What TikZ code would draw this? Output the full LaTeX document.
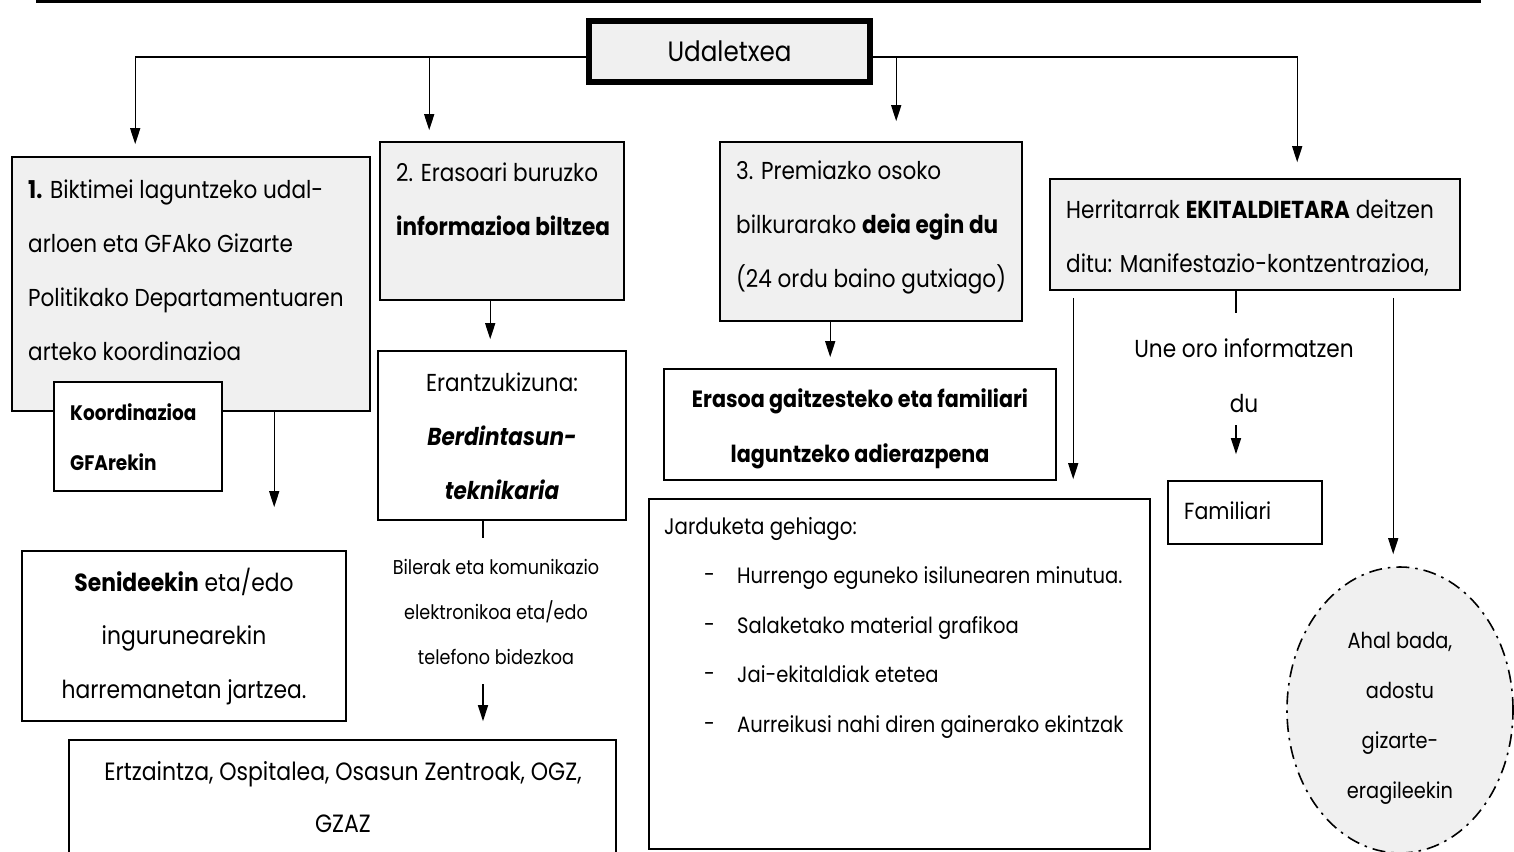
\documentclass[tikz,border=0pt]{standalone}
\usepackage{fontspec}
\setmainfont{Poppins}[FakeStretch=0.88]
\usetikzlibrary{arrows.meta,calc,shapes.geometric}
\definecolor{boxgray}{HTML}{F0F0F0}
\begin{document}
\begin{tikzpicture}[x=1pt,y=-1pt,
  box/.style={draw=black, line width=1.6pt, fill=boxgray, inner sep=0pt},
  wbox/.style={draw=black, line width=1.6pt, fill=white, inner sep=0pt},
  txt/.style={inner sep=0pt, font=\fontsize{24.5}{54}\selectfont},
  arr/.style={line width=1.4pt, -{Triangle[length=16pt,width=10pt]}},
  ln/.style={line width=1.4pt},
]
\path[use as bounding box] (0,0) rectangle (1514,851);
\clip (0,0) rectangle (1514,851);
\fill[white] (0,0) rectangle (1514,851);
\draw[line width=4pt] (36,1) -- (1481,1);

% top node
\node[box, line width=6pt, minimum width=281pt, minimum height=61pt,
      font=\fontsize{28}{34}\selectfont] (ud) at (729.5,51.5) {Udaletxea};

% column 1
\node[box, minimum width=358pt, minimum height=254pt] (b1) at (191,284) {};
\node[txt, anchor=west, align=left] (t1) at (28,270.5)
  {\textbf{1.} Biktimei laguntzeko udal-\\arloen eta GFAko Gizarte\\Politikako Departamentuaren\\arteko koordinazioa};
\node[wbox, minimum width=168pt, minimum height=109pt] (ko) at (138,436.5) {};
\node[txt, font=\fontsize{21}{50}\selectfont\bfseries, anchor=west, align=left] (tko) at (70,437)
  {Koordinazioa\\GFArekin};
\node[wbox, minimum width=324pt, minimum height=170pt] (sen) at (184,636) {};
\node[txt, font=\fontsize{24.8}{53.5}\selectfont, align=center] (tsen) at (184,636.5)
  {\textbf{Senideekin} eta/edo\\ingurunearekin\\harremanetan jartzea.};

% column 2
\node[box, minimum width=244pt, minimum height=158pt] (b2) at (502,221) {};
\node[txt, anchor=west, align=left] (t2) at (396,199.5)
  {2. Erasoari buruzko\\\textbf{informazioa biltzea}};
\node[wbox, minimum width=248pt, minimum height=169pt] (ber) at (502,435.5) {};
\node[txt, align=center] (tber) at (502,436.5)
  {Erantzukizuna:\\\textbf{\textit{Berdintasun-}}\\\textbf{\textit{teknikaria}}};
\node[txt, font=\fontsize{20}{45}\selectfont, align=center] (lbl1) at (496,612)
  {Bilerak eta komunikazio\\elektronikoa eta/edo\\telefono bidezkoa};
\node[wbox, minimum width=547pt, minimum height=140pt] (ertz) at (342.5,810) {};
\node[txt, font=\fontsize{25}{52}\selectfont, align=center] (tertz) at (343,797)
  {Ertzaintza, Ospitalea, Osasun Zentroak, OGZ,\\GZAZ};

% column 3
\node[box, minimum width=302pt, minimum height=179pt] (b3) at (871,231.5) {};
\node[txt, anchor=west, align=left] (t3) at (736,227)
  {3. Premiazko osoko\\bilkurarako \textbf{deia egin du}\\(24 ordu baino gutxiago)};
\node[wbox, minimum width=392pt, minimum height=111pt] (eras) at (860,424.5) {};
\node[txt, font=\fontsize{23.5}{55}\selectfont\bfseries, align=center] (teras) at (860,428.5)
  {Erasoa gaitzesteko eta familiari\\laguntzeko adierazpena};
\node[wbox, minimum width=501pt, minimum height=350pt] (jard) at (899.5,674) {};
\node[txt, font=\fontsize{22.5}{26}\selectfont, anchor=west] (tj) at (664,529) {Jarduketa gehiago:};
\node[txt, font=\fontsize{22.2}{49.7}\selectfont, anchor=west, align=left] (tjd) at (704,652.5)
  {-\\-\\-\\-};
\node[txt, font=\fontsize{22.2}{49.7}\selectfont, anchor=west, align=left] (tji) at (737,652.5)
  {Hurrengo eguneko isilunearen minutua.\\Salaketako material grafikoa\\Jai-ekitaldiak etetea\\Aurreikusi nahi diren gainerako ekintzak};

% column 4
\node[box, minimum width=410pt, minimum height=111pt] (b4) at (1255,234.5) {};
\node[txt, anchor=west, align=left] (t4) at (1066,237.5)
  {Herritarrak \textbf{EKITALDIETARA} deitzen\\ditu: Manifestazio-kontzentrazioa,};
\node[txt, font=\fontsize{24.6}{55}\selectfont, align=center] (lbl2) at (1244,375.5)
  {Une oro informatzen\\du};
\node[wbox, minimum width=154pt, minimum height=63pt] (fam) at (1245,512.5) {};
\node[txt, font=\fontsize{23.3}{28}\selectfont, anchor=west] (tfam) at (1184,511) {Familiari};
\node[draw=black, ellipse, fill=boxgray, line width=1.6pt,
      dash pattern=on 13pt off 6pt on 2.5pt off 6pt,
      minimum width=226pt, minimum height=286pt, inner sep=0pt] (el) at (1400,710) {};
\node[txt, font=\fontsize{22}{50}\selectfont, align=center] (tel) at (1400,718)
  {Ahal bada,\\adostu\\gizarte-\\eragileekin};

% connectors from Udaletxea
\draw[arr, shorten >=12pt] ([yshift=-5.5pt]ud.west) -| ([xshift=124pt]b1.north west);
\draw[arr, shorten >=11pt] ([yshift=-5.5pt]ud.west) -| ([xshift=50pt]b2.north west);
\draw[arr, shorten >=20pt] ([yshift=-5.5pt]ud.east) -| ([xshift=177pt]b3.north west);
\draw[arr, shorten >=16pt] ([yshift=-5.5pt]ud.east) -| ([xshift=248pt]b4.north west);

% other connectors
\draw[arr, shorten >=43pt] ([xshift=263pt]b1.south west) -- ([xshift=263pt]b1.south west |- sen.north);
\draw[arr, shorten >=11pt] ([xshift=111pt]b2.south west) -- ([xshift=111pt]b2.south west |- ber.north);
\coordinate (c1) at (483,538);
\coordinate (c2) at (483,684);
\draw[ln] (ber.south -| c1) -- (c1);
\draw[arr, shorten >=18pt] (c2) -- (c2 |- ertz.north);
\draw[arr, shorten >=11pt] ([xshift=111pt]b3.south west) -- ([xshift=111pt]b3.south west |- eras.north);
\draw[arr, shorten <=7pt, shorten >=19pt] ([xshift=24pt]b4.south west) -- ([xshift=24pt]b4.south west |- jard.north);
\coordinate (c3) at (1236,313);
\coordinate (c4) at (1236,425);
\draw[ln] (b4.south -| c3) -- (c3);
\draw[arr, shorten >=26pt] (c4) -- (c4 |- fam.north);
\draw[arr, shorten <=7pt, shorten >=12pt] ([xshift=344pt]b4.south west) -- ([xshift=344pt]b4.south west |- el.north);
\end{tikzpicture}
\end{document}
